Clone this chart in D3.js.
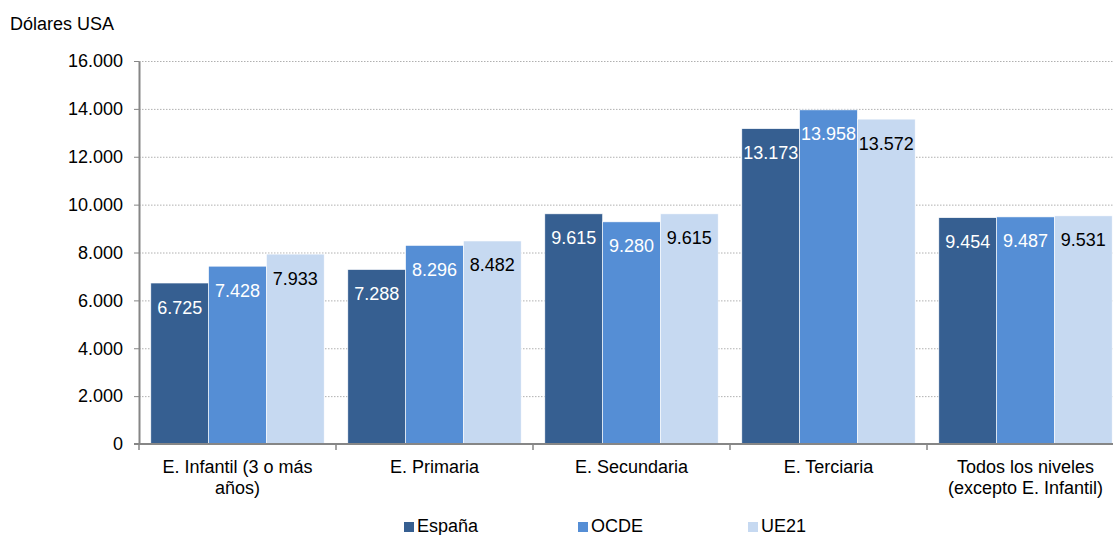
<!DOCTYPE html>
<html><head><meta charset="utf-8">
<script src="https://cdn.jsdelivr.net/npm/d3@7"></script>
<style>body{margin:0;background:#fff;}svg{display:block;font-family:"Liberation Sans",Arial,sans-serif;}</style>
</head><body>
<svg id="c" width="1113" height="535"></svg>
<script>
const categories = [["E. Infantil (3 o más","años)"],["E. Primaria"],["E. Secundaria"],["E. Terciaria"],["Todos los niveles","(excepto E. Infantil)"]];
const seriesNames = ["España","OCDE","UE21"];
const espana = [6725, 7288, 9615, 13173, 9454];
const ocde = [7428, 8296, 9280, 13958, 9487];
const ue21 = [7933, 8482, 9615, 13572, 9531];
const yTicks = [0,2000,4000,6000,8000,10000,12000,14000,16000];
const colors = ["#365F91","#558ED5","#C6D9F1"];
const labelColors = ["#ffffff","#ffffff","#000000"];

const series = [espana, ocde, ue21];
const svg = d3.select("#c");
const loc = d3.formatLocale({decimal:",",thousands:".",grouping:[3],currency:["","€"]});
const fmt = loc.format(",d");

const pLeft = 139, pRight = 1124, pTop = 61, pBottom = 444;
const catIdx = d3.range(categories.length);
const x0 = d3.scaleBand().domain(catIdx).range([pLeft,pRight]).paddingInner(0.12).paddingOuter(0.06);
const x1 = d3.scaleBand().domain(d3.range(seriesNames.length)).range([0,x0.bandwidth()]);
const y = d3.scaleLinear().domain([0,16000]).range([pBottom,pTop]);

// grid
svg.append("g").selectAll("line").data(yTicks.filter(d=>d>0)).join("line")
  .attr("x1",pLeft).attr("x2",1113).attr("y1",d=>y(d)+0.5).attr("y2",d=>y(d)+0.5)
  .attr("stroke","#b0b0b0").attr("stroke-width",1).attr("stroke-dasharray","1.5,1.5");

// bars
const g = svg.append("g");
series.forEach((vals,si)=>{
  g.selectAll(null).data(vals).join("rect")
    .attr("x",(d,i)=>x0(i)+x1(si))
    .attr("y",d=>y(d))
    .attr("width",x1.bandwidth())
    .attr("height",d=>pBottom-y(d))
    .attr("fill",colors[si])
    .attr("stroke","#ffffff").attr("stroke-width",0.6);
  g.selectAll(null).data(vals).join("text")
    .attr("x",(d,i)=>x0(i)+x1(si)+x1.bandwidth()/2)
    .attr("y",d=>y(d)+30.5)
    .attr("text-anchor","middle")
    .attr("font-size",18)
    .attr("fill",labelColors[si])
    .text(d=>fmt(d));
});

// y axis
const yAxis = d3.axisLeft(y).tickValues(yTicks).tickFormat(fmt).tickSize(5).tickSizeOuter(0);
const ya = svg.append("g").attr("transform",`translate(${pLeft},0)`).call(yAxis);
ya.select(".domain").attr("stroke","#868686").attr("stroke-width",2);
ya.selectAll(".tick line").attr("stroke","#868686");
ya.selectAll(".tick text").attr("font-size",18).attr("fill","#000").attr("font-family","Liberation Sans, Arial, sans-serif").attr("dx",-8);

// x axis line & ticks
svg.append("line").attr("x1",pLeft-5).attr("x2",1113).attr("y1",pBottom).attr("y2",pBottom)
  .attr("stroke","#868686").attr("stroke-width",2);
const bounds = catIdx.map(i=>x0(i)-x0.step()*x0.paddingInner()/2);
svg.append("g").selectAll("line").data(bounds).join("line")
  .attr("x1",d=>d).attr("x2",d=>d).attr("y1",pBottom).attr("y2",pBottom+6)
  .attr("stroke","#868686").attr("stroke-width",1.5);

// category labels
const cl = svg.append("g").selectAll("text").data(categories).join("text")
  .attr("x",(d,i)=>x0(i)+x0.bandwidth()/2).attr("y",473)
  .attr("text-anchor","middle").attr("font-size",18).attr("fill","#000");
cl.selectAll("tspan").data(d=>d).join("tspan")
  .attr("x",function(){return this.parentNode.getAttribute("x");})
  .attr("dy",(d,i)=>i===0?0:21).text(d=>d);

// y title
svg.append("text").attr("x",10).attr("y",30).attr("font-size",18).attr("fill","#000").text("Dólares USA");

// legend
const legX = [404,578,748];
const lg = svg.append("g").selectAll("g").data(seriesNames).join("g")
  .attr("transform",(d,i)=>`translate(${legX[i]},522)`);
lg.append("rect").attr("width",10).attr("height",10).attr("fill",(d,i)=>colors[i]);
lg.append("text").attr("x",13).attr("y",10).attr("font-size",18).attr("fill","#000").text(d=>d);
</script>
</body></html>
